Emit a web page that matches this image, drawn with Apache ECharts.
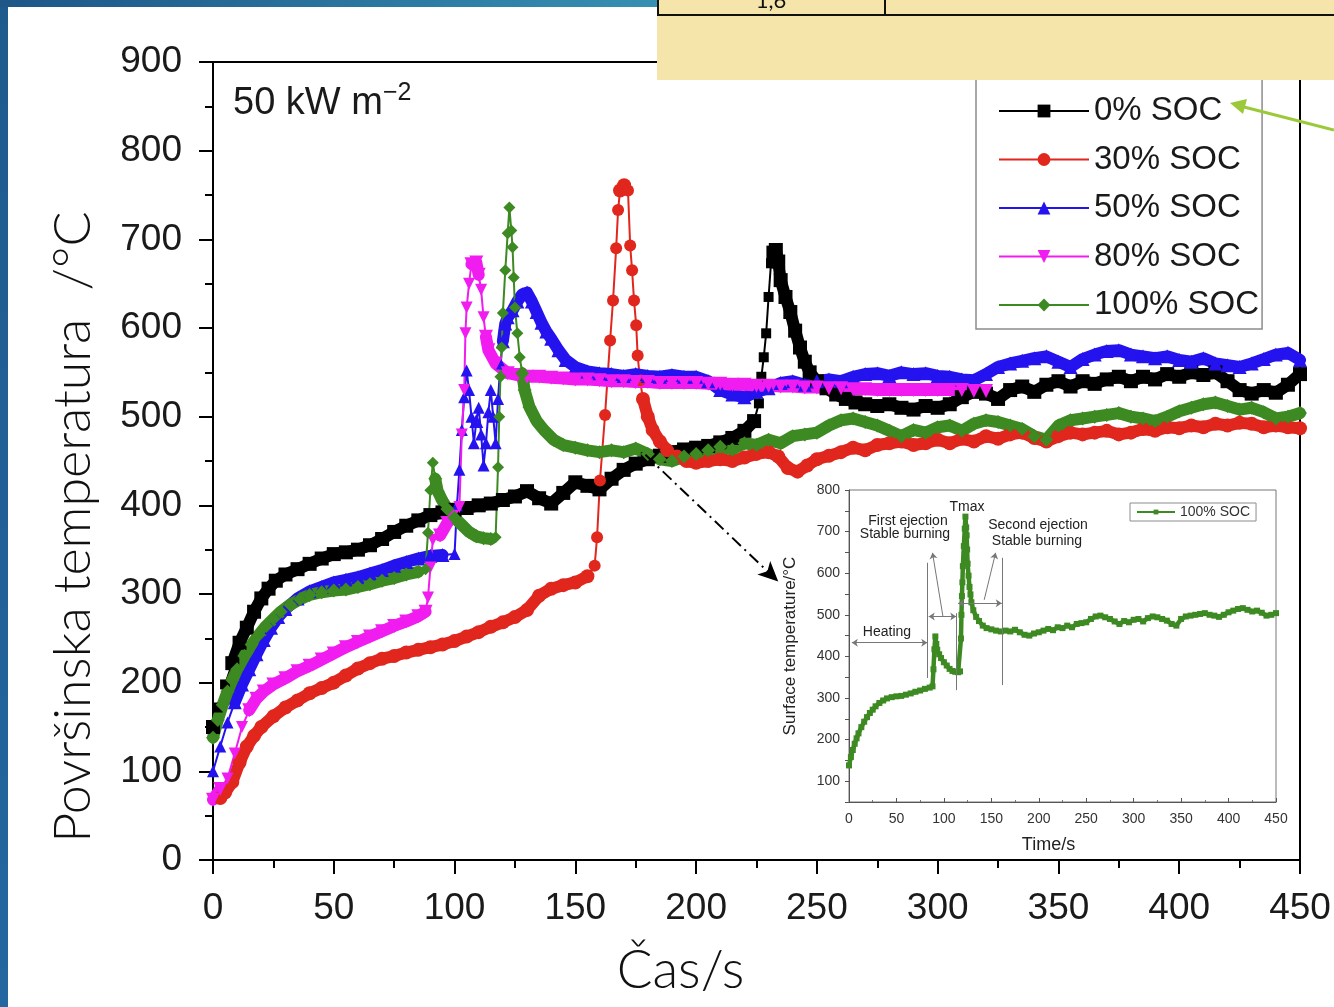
<!DOCTYPE html>
<html>
<head>
<meta charset="utf-8">
<script src="https://cdn.jsdelivr.net/npm/echarts@6/dist/echarts.min.js"></script>
<style>
  html, body { margin: 0; padding: 0; background: #fff; }
  #chart { width: 1334px; height: 1007px; }
</style>
</head>
<body>
<div id="chart"></div>
<script>
const socNames = ["0% SOC", "30% SOC", "50% SOC", "80% SOC", "100% SOC"]
const socColors = ["#000000", "#e0261d", "#2413ee", "#f01cf0", "#3d8a22"]

// [time s, surface temperature °C]
const soc0 = [
  [0, 150], [2, 172], [5, 198], [8, 222], [11, 245], [14, 262], [17, 280], [20, 295], [23, 306], [26, 315],
  [30, 322], [35, 328], [40, 334], [45, 340], [50, 345], [55, 347], [60, 350], [65, 355], [70, 362], [75, 370],
  [80, 377], [85, 383], [90, 389], [95, 392], [100, 395], [105, 397], [110, 400], [115, 402], [120, 406], [125, 410],
  [130, 416], [135, 408], [140, 402], [145, 414], [150, 426], [155, 422], [160, 418], [165, 430], [170, 440], [175, 447],
  [180, 452], [185, 456], [190, 460], [195, 463], [200, 465], [205, 467], [210, 471], [215, 476], [220, 484], [224, 495],
  [226, 515], [227, 545], [228, 567], [229, 594], [230, 635], [231, 673], [232, 685], [233, 688], [234, 675], [235, 654],
  [237, 635], [239, 618], [241, 597], [243, 578], [245, 562], [247, 550], [250, 540], [254, 532], [258, 525], [262, 520],
  [266, 516], [270, 514], [275, 512], [280, 514], [285, 510], [290, 508], [295, 512], [300, 510], [305, 514], [310, 522],
  [315, 528], [320, 526], [325, 520], [330, 530], [335, 534], [340, 528], [345, 536], [350, 540], [355, 534], [360, 540],
  [365, 537], [370, 542], [375, 545], [380, 540], [385, 545], [390, 542], [395, 548], [400, 545], [405, 550], [410, 547],
  [415, 550], [420, 540], [425, 530], [430, 526], [435, 530], [440, 527], [445, 536], [450, 548]
]

const soc30 = [
  [3, 70], [5, 76], [8, 88], [11, 110], [14, 128], [17, 140], [20, 150], [25, 162], [30, 172], [35, 180],
  [40, 188], [45, 194], [50, 200], [55, 208], [60, 216], [65, 222], [70, 227], [75, 230], [80, 234], [85, 237],
  [90, 240], [95, 243], [100, 247], [105, 252], [110, 257], [115, 263], [120, 268], [125, 274], [130, 282], [135, 298],
  [140, 306], [145, 310], [150, 313], [155, 320], [158, 332], [159, 364], [160.2, 428], [162.3, 502], [164.4, 586], [165.6, 631],
  [166.9, 690], [167.7, 733], [168.5, 755], [170.2, 761], [171.8, 755], [172.7, 693], [173.5, 665], [174.3, 631], [175.2, 603], [175.8, 569],
  [176.8, 541], [178, 520], [180, 500], [182, 485], [185, 472], [188, 462], [192, 455], [196, 450], [200, 448], [205, 450],
  [210, 452], [215, 450], [220, 454], [225, 458], [230, 460], [234, 455], [238, 442], [242, 438], [246, 445], [250, 452],
  [255, 456], [260, 460], [265, 465], [270, 462], [275, 468], [280, 470], [285, 472], [290, 468], [295, 470], [300, 474],
  [305, 470], [310, 475], [315, 472], [320, 478], [325, 475], [330, 480], [335, 482], [340, 476], [345, 472], [350, 478],
  [355, 482], [360, 480], [365, 482], [370, 484], [375, 480], [380, 482], [385, 486], [390, 484], [395, 488], [400, 487],
  [405, 490], [410, 488], [415, 492], [420, 490], [425, 493], [430, 492], [435, 488], [440, 490], [445, 488], [450, 487]
]

const soc50 = [
  [0, 100], [3, 128], [6, 155], [9, 178], [12, 198], [15, 215], [18, 232], [21, 248], [24, 262], [27, 274],
  [30, 283], [35, 295], [40, 303], [45, 308], [50, 313], [55, 316], [60, 319], [65, 323], [70, 327], [75, 332],
  [80, 336], [85, 340], [90, 343], [95, 344], [100, 345], [101, 400], [102, 440], [103, 485], [104, 522], [105, 552],
  [106, 530], [107, 500], [108, 470], [109, 495], [110, 510], [111, 480], [112, 445], [113, 470], [114, 505], [115, 530],
  [116, 500], [117, 470], [118, 520], [119, 560], [120, 585], [121, 605], [122, 612], [124, 620], [126, 630], [128, 638],
  [130, 640], [132, 630], [134, 618], [136, 606], [138, 596], [140, 588], [143, 575], [146, 564], [150, 556], [155, 551],
  [160, 549], [165, 548], [170, 546], [175, 548], [180, 546], [185, 545], [190, 547], [195, 545], [200, 545], [205, 540],
  [210, 530], [215, 525], [220, 522], [225, 528], [230, 532], [235, 538], [240, 540], [245, 536], [250, 540], [255, 542],
  [260, 540], [265, 545], [270, 548], [275, 549], [280, 546], [285, 550], [290, 548], [295, 549], [300, 546], [305, 545],
  [310, 542], [315, 541], [320, 548], [325, 556], [330, 560], [335, 563], [340, 566], [345, 568], [350, 562], [355, 556],
  [360, 565], [365, 570], [370, 574], [375, 575], [380, 570], [385, 568], [390, 566], [395, 568], [400, 564], [405, 562],
  [410, 566], [415, 560], [420, 558], [425, 556], [430, 560], [435, 565], [440, 570], [445, 572], [450, 564]
]

const soc80 = [
  [0, 68], [3, 80], [6, 92], [9, 120], [12, 150], [15, 169], [18, 182], [21, 190], [25, 198], [30, 205],
  [35, 213], [40, 219], [45, 226], [50, 233], [55, 240], [60, 246], [65, 252], [70, 258], [75, 264], [80, 269],
  [85, 275], [88, 280], [89, 296], [90, 330], [91, 361], [94, 366], [97, 380], [99, 387], [102, 398], [103, 480],
  [104, 530], [104.5, 594], [105, 623], [106, 650], [107, 672], [109, 674], [110, 660], [111, 643], [112, 612], [113, 590],
  [114, 575], [117, 560], [122, 549], [126, 547], [130, 545], [135, 545], [140, 544], [145, 543], [150, 542], [155, 542],
  [160, 541], [165, 540], [170, 540], [175, 539], [180, 539], [185, 538], [190, 538], [195, 538], [200, 538], [205, 537],
  [210, 537], [215, 536], [220, 536], [225, 535], [230, 535], [235, 534], [240, 534], [245, 533], [250, 533], [255, 532],
  [260, 532], [265, 531], [270, 531], [275, 530], [280, 530], [285, 530], [290, 530], [295, 530], [300, 530], [305, 530],
  [310, 530], [315, 529], [320, 529]
]

const soc100 = [
  [0, 138], [2, 158], [4, 175], [6, 190], [8, 203], [10, 215], [13, 230], [16, 243], [19, 254], [22, 264],
  [25, 272], [28, 280], [32, 288], [36, 294], [40, 299], [45, 302], [50, 304], [55, 305], [60, 308], [65, 311],
  [70, 315], [75, 318], [80, 322], [85, 325], [88, 328], [89, 369], [90, 417], [91, 448], [92, 430], [93, 416],
  [95, 405], [97, 396], [100, 386], [103, 378], [106, 370], [109, 365], [112, 363], [115, 362], [117, 364], [118, 443],
  [118.5, 500], [119, 545], [119.5, 578], [120, 617], [121, 665], [122, 707], [122.7, 736], [123.5, 710], [124, 691], [124.5, 657],
  [125, 623], [126, 594], [127, 567], [128, 549], [129, 530], [131, 511], [134, 495], [137, 485], [141, 474], [145, 468],
  [150, 465], [155, 462], [160, 460], [165, 462], [170, 460], [175, 464], [180, 458], [185, 452], [190, 450], [195, 455],
  [200, 458], [205, 462], [210, 466], [215, 463], [220, 470], [225, 468], [230, 474], [235, 470], [240, 478], [245, 480],
  [250, 482], [255, 490], [260, 496], [265, 498], [270, 494], [275, 490], [280, 484], [285, 478], [290, 485], [295, 482],
  [300, 488], [305, 490], [310, 484], [315, 492], [320, 496], [325, 494], [330, 490], [335, 486], [340, 478], [345, 474],
  [350, 490], [355, 496], [360, 498], [365, 500], [370, 502], [375, 504], [380, 500], [385, 498], [390, 495], [395, 500],
  [400, 506], [405, 510], [410, 514], [415, 516], [420, 512], [425, 508], [430, 510], [435, 505], [440, 498], [445, 500],
  [450, 504]
]

const socData = [soc0, soc30, soc50, soc80, soc100]
const socSymbols = ["rect", "circle", "triangle", "triangle", "diamond"]
const socRotate = [0, 0, 0, 180, 0]

const insetName = "100% SOC (inset)"

const chart = echarts.init(document.getElementById("chart"), null, { renderer: "canvas" })

const tickFont = "'Liberation Sans', Arial, sans-serif"
const slideFont = "Lato, 'Open Sans', sans-serif"

// a point sits on a steep jump when a neighbour differs by more than 25 °C
function isSteep(data, i) {
  const prev = data[Math.max(i - 1, 0)]
  const next = data[Math.min(i + 1, data.length - 1)]
  return Math.abs(data[i][1] - prev[1]) > 25 || Math.abs(next[1] - data[i][1]) > 25
}

// flat stretches: thick band; steep jumps: thin line with separate markers
const bandSeries = socNames.map((name, i) => ({
  name: name + " band",
  type: "line",
  xAxisIndex: 0,
  yAxisIndex: 0,
  data: socData[i].map((p, j) => (isSteep(socData[i], j) ? [p[0], null] : p)),
  showSymbol: false,
  connectNulls: false,
  lineStyle: { color: socColors[i], width: 12, cap: "round", join: "round" },
  silent: true,
  animation: false
}))

const markerSeries = socNames.map((name, i) => ({
  name: name,
  type: "line",
  xAxisIndex: 0,
  yAxisIndex: 0,
  data: socData[i],
  symbol: socSymbols[i],
  symbolRotate: socRotate[i],
  symbolSize: (v, params) => (isSteep(socData[i], params.dataIndex) ? (i === 0 ? 10 : 12) : 14),
  showAllSymbol: true,
  lineStyle: { color: socColors[i], width: 2 },
  itemStyle: { color: socColors[i] },
  animation: false
}))

const mainSeries = []
socNames.forEach((n, i) => { mainSeries.push(bandSeries[i], markerSeries[i]) })

// dash-dot pointer from the 100% curve towards the inset
markerSeries[4].markLine = {
  silent: true,
  symbol: ["none", "arrow"],
  symbolSize: [14, 20],
  label: { show: false },
  lineStyle: { color: "#000", width: 2, type: [12, 5, 2, 5] },
  data: [[{ coord: [179, 457] }, { coord: [234, 314] }]]
}

const grayLine = { color: "#777", width: 1, type: "solid" }
const insetSeries = {
  name: insetName,
  type: "line",
  xAxisIndex: 1,
  yAxisIndex: 1,
  data: soc100,
  symbol: "rect",
  symbolSize: 6,
  lineStyle: { color: "#3d8a22", width: 4.5 },
  itemStyle: { color: "#3d8a22" },
  animation: false,
  markLine: {
    silent: true,
    symbolSize: 6,
    label: { show: false },
    lineStyle: grayLine,
    data: [
      [{ coord: [3, 433], symbol: "arrow" }, { coord: [82.5, 433], symbol: "arrow" }],
      [{ coord: [84, 496], symbol: "arrow" }, { coord: [113, 496], symbol: "arrow" }],
      [{ coord: [115, 528], symbol: "arrow" }, { coord: [161, 528], symbol: "arrow" }],
      [{ coord: [82.5, 348], symbol: "none" }, { coord: [82.5, 625], symbol: "none" }],
      [{ coord: [113, 319], symbol: "none" }, { coord: [113, 504], symbol: "none" }],
      [{ coord: [161, 331], symbol: "none" }, { coord: [161, 637], symbol: "none" }],
      [{ coord: [99, 496], symbol: "none" }, { coord: [88, 649], symbol: "arrow" }],
      [{ coord: [142.5, 536], symbol: "none" }, { coord: [154.5, 649], symbol: "arrow" }]
    ]
  }
}

const annot = [
  ["Tmax", 967, 507],
  ["First ejection", 908, 521],
  ["Stable burning", 905, 534],
  ["Second ejection", 1038, 525],
  ["Stable burning", 1037, 541],
  ["Heating", 887, 632]
]

const option = {
  backgroundColor: "#ffffff",
  animation: false,
  grid: [
    { left: 213, top: 62, right: 34, bottom: 147, show: true, borderColor: "#000", borderWidth: 2,
      backgroundColor: "transparent", containLabel: false, outerBoundsMode: "none" },
    { left: 849, top: 490, width: 427, height: 312, show: true, borderColor: "#777", borderWidth: 1,
      backgroundColor: "#fff", containLabel: false, outerBoundsMode: "none" }
  ],
  legend: [
    {
      data: socNames,
      orient: "vertical",
      left: 976,
      top: 64,
      padding: [30, 3, 7, 22],
      itemGap: 14.5,
      itemWidth: 90,
      itemHeight: 16,
      selectedMode: false,
      backgroundColor: "#fff",
      borderColor: "#8c8c8c",
      borderWidth: 1.5,
      lineStyle: { width: 2 },
      textStyle: { fontSize: 33, lineHeight: 34, color: "#1a1a1a", fontFamily: tickFont }
    },
    {
      data: [insetName],
      formatter: () => "100% SOC",
      orient: "vertical",
      left: 1130,
      top: 503,
      padding: [2, 6, 2, 6],
      itemWidth: 38,
      itemHeight: 6,
      selectedMode: false,
      borderColor: "#8c8c8c",
      borderWidth: 1,
      textStyle: { fontSize: 14, color: "#333", fontFamily: tickFont }
    }
  ],
  xAxis: [
    {
      gridIndex: 0,
      type: "value",
      min: 0,
      max: 450,
      interval: 50,
      name: "Čas/s",
      nameLocation: "middle",
      nameGap: 84,
      nameTextStyle: { fontSize: 53, fontFamily: slideFont, fontWeight: 300, color: "#111", padding: [0, 152, 0, 0] },
      axisLine: { onZero: false, lineStyle: { color: "#000", width: 2 } },
      axisTick: { length: 14, lineStyle: { color: "#000", width: 2 } },
      minorTick: { show: true, splitNumber: 2, length: 8, lineStyle: { color: "#000", width: 2 } },
      axisLabel: { fontSize: 37, color: "#1a1a1a", margin: 30, fontFamily: tickFont },
      splitLine: { show: false }
    },
    {
      gridIndex: 1,
      type: "value",
      min: 0,
      max: 450,
      interval: 50,
      name: "Time/s",
      nameLocation: "middle",
      nameGap: 34,
      nameTextStyle: { fontSize: 18, color: "#222", fontFamily: tickFont, padding: [0, 28, 0, 0] },
      axisLine: { onZero: false, lineStyle: { color: "#555", width: 1 } },
      axisTick: { inside: true, length: 4, lineStyle: { color: "#555" } },
      minorTick: { show: true, splitNumber: 2, length: 2, lineStyle: { color: "#777" } },
      axisLabel: { fontSize: 14, color: "#333", margin: 10, fontFamily: tickFont },
      splitLine: { show: false }
    }
  ],
  yAxis: [
    {
      gridIndex: 0,
      type: "value",
      min: 0,
      max: 900,
      interval: 100,
      name: "Površinska temperatura  /°C",
      nameLocation: "middle",
      nameGap: 114,
      nameTextStyle: { fontSize: 52, fontFamily: slideFont, fontWeight: 300, color: "#111", padding: [0, 132, 0, 0] },
      axisLine: { onZero: false, lineStyle: { color: "#000", width: 2 } },
      axisTick: { length: 14, lineStyle: { color: "#000", width: 2 } },
      minorTick: { show: true, splitNumber: 2, length: 8, lineStyle: { color: "#000", width: 2 } },
      axisLabel: { fontSize: 37, color: "#1a1a1a", margin: 31, fontFamily: tickFont },
      splitLine: { show: false }
    },
    {
      gridIndex: 1,
      type: "value",
      min: 50,
      max: 800,
      interval: 50,
      name: "Surface temperature/°C",
      nameLocation: "middle",
      nameGap: 50,
      nameTextStyle: { fontSize: 17, color: "#222", fontFamily: tickFont },
      axisLine: { onZero: false, lineStyle: { color: "#555", width: 1 } },
      axisTick: { length: 4, lineStyle: { color: "#555" } },
      axisLabel: {
        fontSize: 14, color: "#333", margin: 9, fontFamily: tickFont,
        formatter: v => (v % 100 === 0 ? String(v) : "")
      },
      splitLine: { show: false }
    }
  ],
  series: mainSeries.concat([insetSeries]),
  graphic: [
    // slide frame
    { type: "rect", z: 100, silent: true, shape: { x: 0, y: 0, width: 8, height: 1007 },
      style: { fill: new echarts.graphic.LinearGradient(0, 0, 0, 1, [{ offset: 0, color: "#1f5a8c" }, { offset: 1, color: "#2366a0" }]) } },
    { type: "rect", z: 100, silent: true, shape: { x: 0, y: 0, width: 660, height: 7 },
      style: { fill: new echarts.graphic.LinearGradient(0, 0, 1, 0, [{ offset: 0, color: "#1d5687" }, { offset: 1, color: "#3690b2" }]) } },
    // table box over the top right
    { type: "rect", z: 100, silent: true, shape: { x: 657, y: 0, width: 677, height: 80 }, style: { fill: "#f5e5ab" } },
    { type: "line", z: 101, silent: true, shape: { x1: 657, y1: 15, x2: 1334, y2: 15 }, style: { stroke: "#111", lineWidth: 2 } },
    { type: "line", z: 101, silent: true, shape: { x1: 658, y1: 0, x2: 658, y2: 15 }, style: { stroke: "#111", lineWidth: 2 } },
    { type: "line", z: 101, silent: true, shape: { x1: 885, y1: 0, x2: 885, y2: 15 }, style: { stroke: "#111", lineWidth: 2 } },
    { type: "text", z: 101, silent: true, x: 771, y: 12,
      style: { text: "1,6", fontSize: 22, fontFamily: slideFont, fill: "#111", align: "center", verticalAlign: "bottom" } },
    // green pointer arrow
    { type: "line", z: 101, silent: true, shape: { x1: 1334, y1: 130, x2: 1244, y2: 107 }, style: { stroke: "#9cc93a", lineWidth: 3 } },
    { type: "polygon", z: 101, silent: true, shape: { points: [[1230, 103], [1247, 99], [1243, 114]] }, style: { fill: "#9cc93a" } },
    // heat flux label
    { type: "text", z: 50, silent: true, x: 233, y: 104,
      style: { text: "50 kW m", fontSize: 38, fontFamily: tickFont, fill: "#1a1a1a", verticalAlign: "middle" } },
    { type: "text", z: 50, silent: true, x: 383, y: 93,
      style: { text: "−2", fontSize: 25, fontFamily: tickFont, fill: "#1a1a1a", verticalAlign: "middle" } }
  ].concat(annot.map(a => ({
    type: "text", z: 50, silent: true, x: a[1], y: a[2],
    style: { text: a[0], fontSize: 14, fontFamily: tickFont, fill: "#222", align: "center", verticalAlign: "middle" }
  })))
}

chart.setOption(option)
</script>
</body>
</html>
